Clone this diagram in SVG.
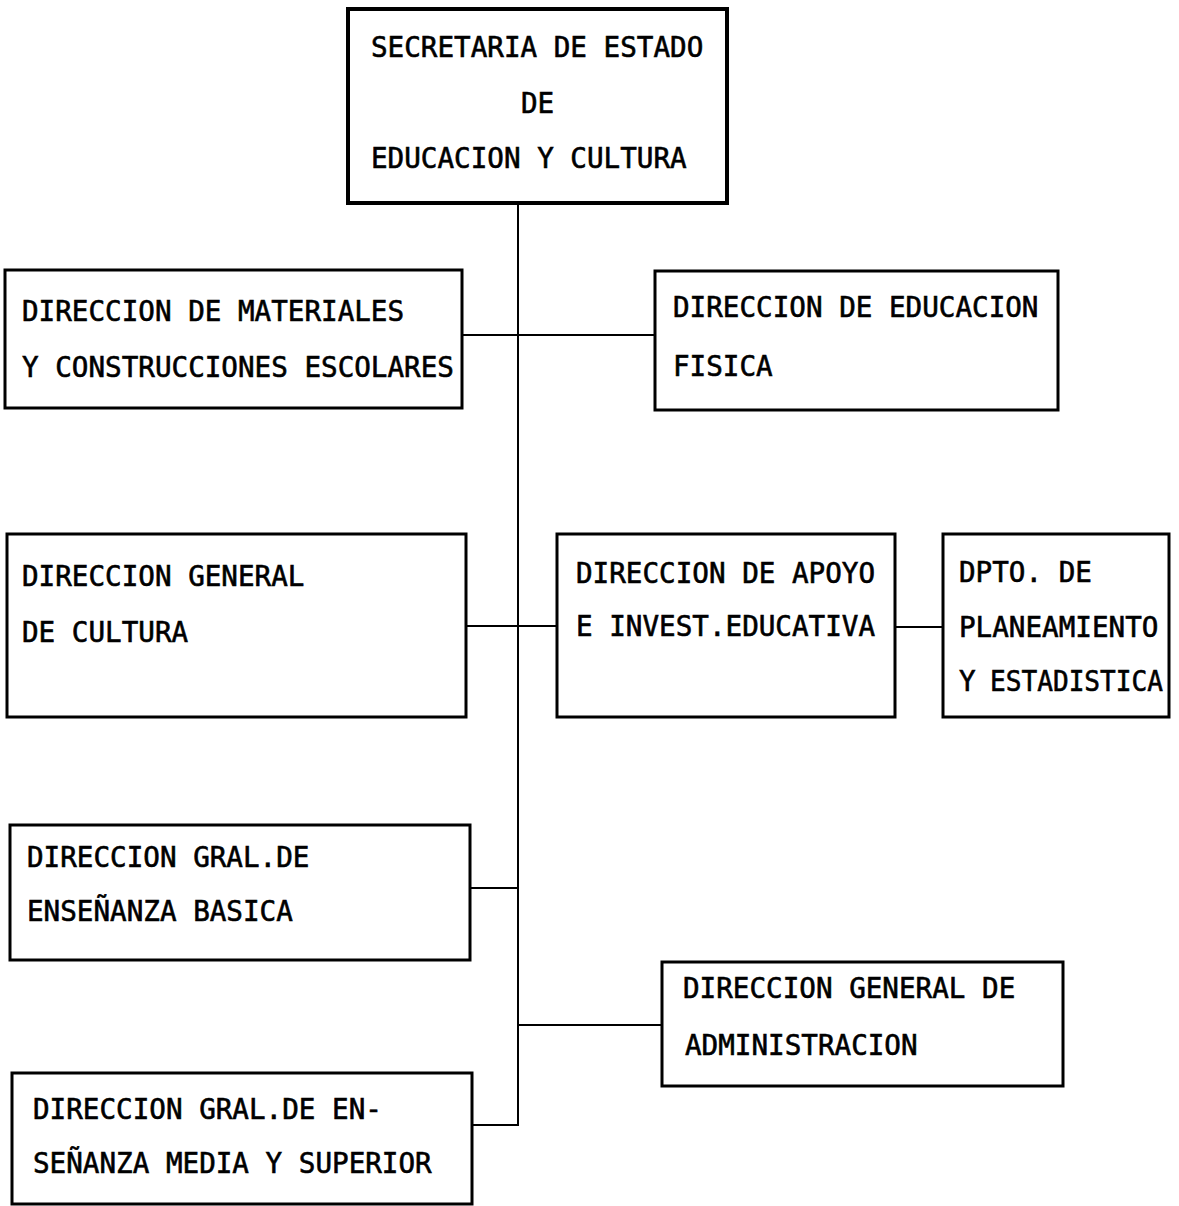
<svg xmlns="http://www.w3.org/2000/svg" width="1179" height="1206" viewBox="0 0 1179 1206">
<style>
.box{fill:#fff;stroke:#000;stroke-width:3}
.ln{fill:none;stroke:#000;stroke-width:2}
.t{font-family:"DejaVu Sans Mono","Liberation Mono",monospace;font-size:27.6px;fill:#000;stroke:#000;stroke-width:0.6}
</style>
<rect width="1179" height="1206" fill="#fff"/>
<g id="connectors">
<line class="ln" x1="518" y1="204" x2="518" y2="1126"/>
<line class="ln" x1="462" y1="335" x2="655" y2="335"/>
<line class="ln" x1="466" y1="626" x2="557" y2="626"/>
<line class="ln" x1="895" y1="627" x2="943" y2="627"/>
<line class="ln" x1="470" y1="888" x2="518" y2="888"/>
<line class="ln" x1="518" y1="1025" x2="662" y2="1025"/>
<line class="ln" x1="472" y1="1125" x2="518" y2="1125"/>
</g>
<g id="secretaria">
<rect class="box" x="348" y="9" width="379" height="194" style="stroke-width:4"/>
<text class="t" x="371" y="57">SECRETARIA DE ESTADO</text>
<text class="t" x="521" y="113">DE</text>
<text class="t" x="371" y="168">EDUCACION Y CULTURA</text>
</g>
<g id="materiales">
<rect class="box" x="5" y="270" width="457" height="138"/>
<text class="t" x="22" y="321">DIRECCION DE MATERIALES</text>
<text class="t" x="22" y="377">Y CONSTRUCCIONES ESCOLARES</text>
</g>
<g id="fisica">
<rect class="box" x="655" y="271" width="403" height="139"/>
<text class="t" x="673" y="317">DIRECCION DE EDUCACION</text>
<text class="t" x="673" y="376">FISICA</text>
</g>
<g id="cultura">
<rect class="box" x="7" y="534" width="459" height="183"/>
<text class="t" x="22" y="586">DIRECCION GENERAL</text>
<text class="t" x="22" y="642">DE CULTURA</text>
</g>
<g id="apoyo">
<rect class="box" x="557" y="534" width="338" height="183"/>
<text class="t" x="576" y="583">DIRECCION DE APOYO</text>
<text class="t" x="576" y="636">E INVEST.EDUCATIVA</text>
</g>
<g id="dpto">
<rect class="box" x="943" y="534" width="226" height="183"/>
<text class="t" x="959" y="582">DPTO. DE</text>
<text class="t" x="959" y="637">PLANEAMIENTO</text>
<text class="t" x="959" y="691">Y</text>
<text class="t" x="990" y="691" textLength="173" lengthAdjust="spacingAndGlyphs">ESTADISTICA</text>
</g>
<g id="basica">
<rect class="box" x="10" y="825" width="460" height="135"/>
<text class="t" x="27" y="867">DIRECCION GRAL.DE</text>
<text class="t" x="27" y="921">ENSEÑANZA BASICA</text>
</g>
<g id="administracion">
<rect class="box" x="662" y="962" width="401" height="124"/>
<text class="t" x="683" y="998">DIRECCION GENERAL DE</text>
<text class="t" x="685" y="1055">ADMINISTRACION</text>
</g>
<g id="media">
<rect class="box" x="12" y="1073" width="460" height="131"/>
<text class="t" x="33" y="1119">DIRECCION GRAL.DE EN-</text>
<text class="t" x="33" y="1173">SEÑANZA MEDIA Y SUPERIOR</text>
</g>
</svg>
